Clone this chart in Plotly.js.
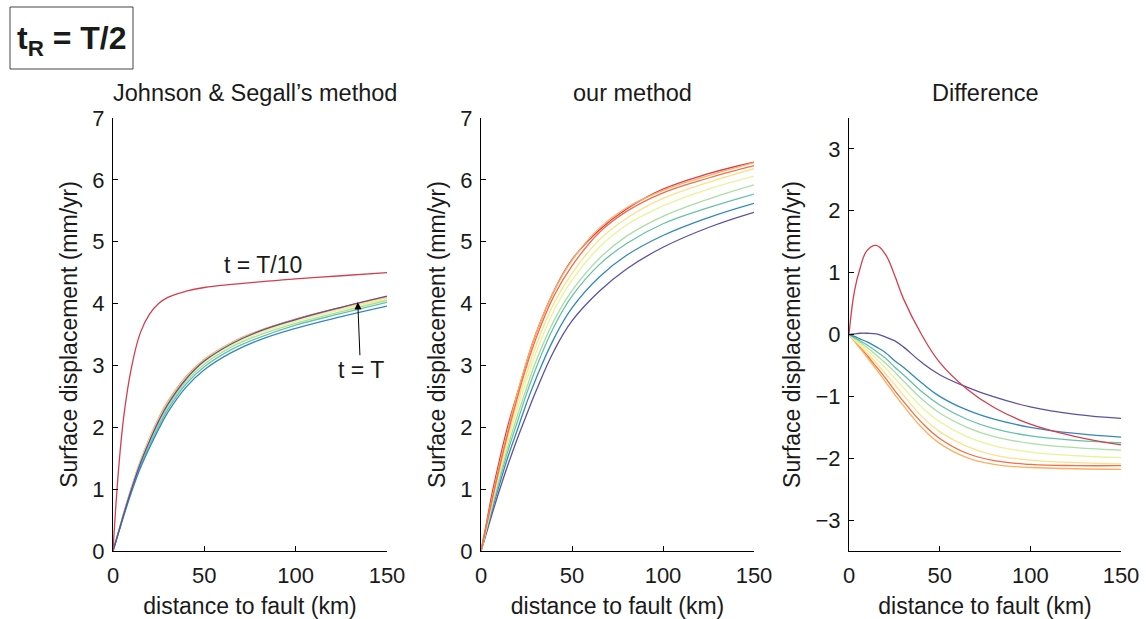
<!DOCTYPE html>
<html>
<head>
<meta charset="utf-8">
<script src="https://cdn.plot.ly/plotly-3.0.1.min.js"></script>
<style>
html,body{margin:0;padding:0;background:#ffffff;}
#chart{width:1146px;height:619px;}
</style>
</head>
<body>
<div id="chart"></div>
<script>
// distance to fault (km)
const distanceKm = [0, 3, 6, 10, 15, 20, 25, 30, 40, 50, 65, 80, 100, 125, 150];

const timeLabels = ["t = T/10", "t = 2", "t = 3", "t = 4", "t = 5", "t = 6", "t = 7", "t = 8", "t = T"];
const lineColors = ["#d53e4f", "#f46d43", "#fdae61", "#fee08b", "#e6f598", "#abdda4", "#66c2a5", "#3288bd", "#5e4fa2"];

// Johnson & Segall's method (mm/yr)
const js1 = [0, 1.3, 2.2, 2.95, 3.53, 3.83, 4.0, 4.1, 4.2, 4.26, 4.31, 4.35, 4.4, 4.45, 4.5];
const js2 = [0, 0.31, 0.62, 1.01, 1.45, 1.82, 2.14, 2.41, 2.82, 3.09, 3.37, 3.56, 3.75, 3.94, 4.11];
const js3 = [0, 0.31, 0.63, 1.02, 1.46, 1.83, 2.15, 2.42, 2.82, 3.10, 3.37, 3.56, 3.74, 3.93, 4.10];
const js4 = [0, 0.31, 0.62, 1.00, 1.44, 1.81, 2.12, 2.39, 2.80, 3.08, 3.36, 3.54, 3.73, 3.92, 4.09];
const js5 = [0, 0.30, 0.61, 0.99, 1.42, 1.78, 2.09, 2.36, 2.77, 3.05, 3.33, 3.52, 3.71, 3.90, 4.07];
const js6 = [0, 0.30, 0.60, 0.98, 1.40, 1.75, 2.06, 2.33, 2.74, 3.02, 3.30, 3.49, 3.68, 3.87, 4.05];
const js7 = [0, 0.30, 0.59, 0.96, 1.37, 1.71, 2.02, 2.29, 2.70, 2.98, 3.26, 3.45, 3.65, 3.84, 4.02];
const js8 = [0, 0.29, 0.58, 0.94, 1.34, 1.67, 1.97, 2.24, 2.65, 2.93, 3.21, 3.41, 3.60, 3.79, 3.96];
const js9 = [0, 0.30, 0.61, 0.99, 1.42, 1.78, 2.10, 2.37, 2.78, 3.07, 3.35, 3.55, 3.74, 3.94, 4.12];

// our method (mm/yr)
const our1 = [0, 0.45, 0.92, 1.45, 2.05, 2.55, 3.05, 3.50, 4.20, 4.71, 5.19, 5.53, 5.85, 6.10, 6.285];
const our2 = [0, 0.41, 0.81, 1.33, 1.93, 2.48, 2.98, 3.42, 4.12, 4.61, 5.15, 5.49, 5.79, 6.03, 6.23];
const our3 = [0, 0.42, 0.84, 1.37, 1.98, 2.55, 3.05, 3.50, 4.20, 4.70, 5.22, 5.55, 5.83, 6.07, 6.28];
const our4 = [0, 0.40, 0.79, 1.28, 1.86, 2.40, 2.86, 3.30, 4.00, 4.49, 5.03, 5.38, 5.70, 5.96, 6.18];
const our5 = [0, 0.38, 0.76, 1.23, 1.79, 2.30, 2.76, 3.19, 3.88, 4.38, 4.91, 5.27, 5.58, 5.85, 6.06];
const our6 = [0, 0.36, 0.72, 1.18, 1.71, 2.19, 2.63, 3.05, 3.72, 4.21, 4.73, 5.09, 5.41, 5.69, 5.92];
const our7 = [0, 0.35, 0.69, 1.13, 1.64, 2.09, 2.54, 2.94, 3.62, 4.12, 4.63, 4.97, 5.29, 5.55, 5.77];
const our8 = [0, 0.32, 0.65, 1.06, 1.54, 1.96, 2.39, 2.77, 3.43, 3.93, 4.43, 4.78, 5.10, 5.39, 5.62];
const our9 = [0, 0.29, 0.59, 0.97, 1.41, 1.82, 2.20, 2.57, 3.23, 3.72, 4.20, 4.56, 4.91, 5.23, 5.475];

// Difference (mm/yr)
const diff1 = [0, 0.70, 1.06, 1.36, 1.44, 1.30, 0.97, 0.58, 0.00, -0.45, -0.88, -1.18, -1.45, -1.65, -1.785];
const diff2 = [0, -0.10, -0.20, -0.34, -0.52, -0.70, -0.90, -1.08, -1.42, -1.68, -1.92, -2.04, -2.10, -2.12, -2.12];
const diff3 = [0, -0.11, -0.22, -0.37, -0.56, -0.76, -0.96, -1.15, -1.50, -1.76, -1.99, -2.10, -2.15, -2.17, -2.18];
const diff4 = [0, -0.09, -0.18, -0.30, -0.46, -0.63, -0.80, -0.98, -1.32, -1.57, -1.81, -1.95, -2.03, -2.07, -2.09];
const diff5 = [0, -0.08, -0.15, -0.25, -0.39, -0.54, -0.70, -0.86, -1.17, -1.41, -1.65, -1.80, -1.90, -1.96, -1.99];
const diff6 = [0, -0.06, -0.12, -0.21, -0.33, -0.46, -0.60, -0.75, -1.04, -1.27, -1.50, -1.65, -1.76, -1.83, -1.87];
const diff7 = [0, -0.05, -0.10, -0.17, -0.27, -0.38, -0.52, -0.65, -0.92, -1.14, -1.37, -1.52, -1.64, -1.71, -1.75];
const diff8 = [0, -0.03, -0.07, -0.12, -0.20, -0.29, -0.42, -0.53, -0.78, -1.00, -1.22, -1.37, -1.50, -1.60, -1.66];
const diff9 = [0, 0.01, 0.02, 0.02, 0.01, -0.04, -0.10, -0.20, -0.45, -0.65, -0.85, -1.01, -1.17, -1.29, -1.355];

const xTicks = [0, 50, 100, 150];
const yTicksAbs = [0, 1, 2, 3, 4, 5, 6, 7];
const yTicksDiff = [-3, -2, -1, 0, 1, 2, 3];

const jsSeries = [js1, js2, js3, js4, js5, js6, js7, js8, js9];
const ourSeries = [our1, our2, our3, our4, our5, our6, our7, our8, our9];
const diffSeries = [diff1, diff2, diff3, diff4, diff5, diff6, diff7, diff8, diff9];

const FONT = '"Liberation Sans", Arial, Helvetica, sans-serif';
const TXT = '#1a1a1a';

function mk(ys, i, xa, ya) {
  return {
    x: distanceKm, y: ys, type: 'scatter', mode: 'lines',
    name: timeLabels[i], xaxis: xa, yaxis: ya, showlegend: false,
    line: {color: lineColors[i], width: 1.3, shape: 'spline', smoothing: 1.2},
    hoverinfo: 'x+y+name'
  };
}

const traces = [];
[1,2,3,4,5,6,7,8,0].forEach(i => traces.push(mk(jsSeries[i], i, 'x', 'y')));
[8,7,6,5,4,3,0,2,1].forEach(i => traces.push(mk(ourSeries[i], i, 'x2', 'y2')));
[1,2,3,4,5,6,7,8,0].forEach(i => traces.push(mk(diffSeries[i], i, 'x3', 'y3')));

function xax(domain, anchor) {
  return {
    domain: domain, anchor: anchor, range: [0, 150], tickvals: xTicks,
    showline: true, linecolor: '#000', linewidth: 1, mirror: false,
    ticks: 'inside', ticklen: 5, tickcolor: '#000', tickwidth: 1,
    ticklabelstandoff: 5,
    showgrid: false, zeroline: false,
    tickfont: {family: FONT, size: 22, color: TXT},
    title: {text: 'distance to fault (km)', font: {family: FONT, size: 23, color: TXT}, standoff: 10}
  };
}
function yax(range, ticks, anchor) {
  return {
    domain: [0, 1], anchor: anchor, range: range, tickvals: ticks,
    showline: true, linecolor: '#000', linewidth: 1, mirror: false,
    ticks: 'inside', ticklen: 5, tickcolor: '#000', tickwidth: 1,
    ticklabelstandoff: 3,
    showgrid: false, zeroline: false,
    tickfont: {family: FONT, size: 22, color: TXT},
    title: {text: 'Surface displacement (mm/yr)', font: {family: FONT, size: 23, color: TXT}, standoff: 8}
  };
}

const W = 1146, H = 619, ML = 113, MR = 25, MT = 118, MB = 68;
const pw = W - ML - MR, ph = H - MT - MB;
const px = v => (v - ML) / pw;
const py = v => (H - MB - v) / ph;

const layout = {
  width: W, height: H,
  margin: {l: ML, r: MR, t: MT, b: MB, pad: 0},
  paper_bgcolor: '#ffffff', plot_bgcolor: '#ffffff',
  font: {family: FONT, color: TXT},
  showlegend: false,
  xaxis: xax([0, px(387)], 'y'),
  yaxis: yax([0, 7], yTicksAbs, 'x'),
  xaxis2: xax([px(481), px(754)], 'y2'),
  yaxis2: yax([0, 7], yTicksAbs, 'x2'),
  xaxis3: xax([px(849), 1], 'y3'),
  yaxis3: yax([-3.5, 3.5], yTicksDiff, 'x3'),
  shapes: [
    {type: 'rect', xref: 'paper', yref: 'paper', x0: px(10), x1: px(133), y0: py(69), y1: py(7),
     line: {color: '#444', width: 1}, fillcolor: 'rgba(0,0,0,0)'}
  ],
  annotations: [
    {xref: 'paper', yref: 'paper', x: px(72), y: py(40), text: '<b>t<sub>R</sub> = T/2</b>',
     showarrow: false, xanchor: 'center', yanchor: 'middle', font: {family: FONT, size: 32, color: TXT}},
    {xref: 'paper', yref: 'paper', x: px(255), y: py(93), text: 'Johnson &amp; Segall’s method',
     showarrow: false, xanchor: 'center', yanchor: 'middle', font: {family: FONT, size: 23.5, color: TXT}},
    {xref: 'paper', yref: 'paper', x: px(632), y: py(93), text: 'our method',
     showarrow: false, xanchor: 'center', yanchor: 'middle', font: {family: FONT, size: 23.5, color: TXT}},
    {xref: 'paper', yref: 'paper', x: px(985), y: py(93), text: 'Difference',
     showarrow: false, xanchor: 'center', yanchor: 'middle', font: {family: FONT, size: 23.5, color: TXT}},
    {xref: 'x', yref: 'y', x: 82, y: 4.62, text: 't = T/10', showarrow: false,
     xanchor: 'center', yanchor: 'middle', font: {family: FONT, size: 23, color: TXT}},
    {xref: 'x', yref: 'y', x: 134, y: 4.02, axref: 'x', ayref: 'y', ax: 135.5, ay: 2.93,
     text: 't = T', showarrow: true, arrowhead: 2, arrowsize: 1.4, arrowwidth: 1, arrowcolor: '#000',
     standoff: 0, startstandoff: 0, font: {family: FONT, size: 23, color: TXT}}
  ]
};

Plotly.newPlot('chart', traces, layout, {displayModeBar: false, staticPlot: true});
</script>
</body>
</html>
